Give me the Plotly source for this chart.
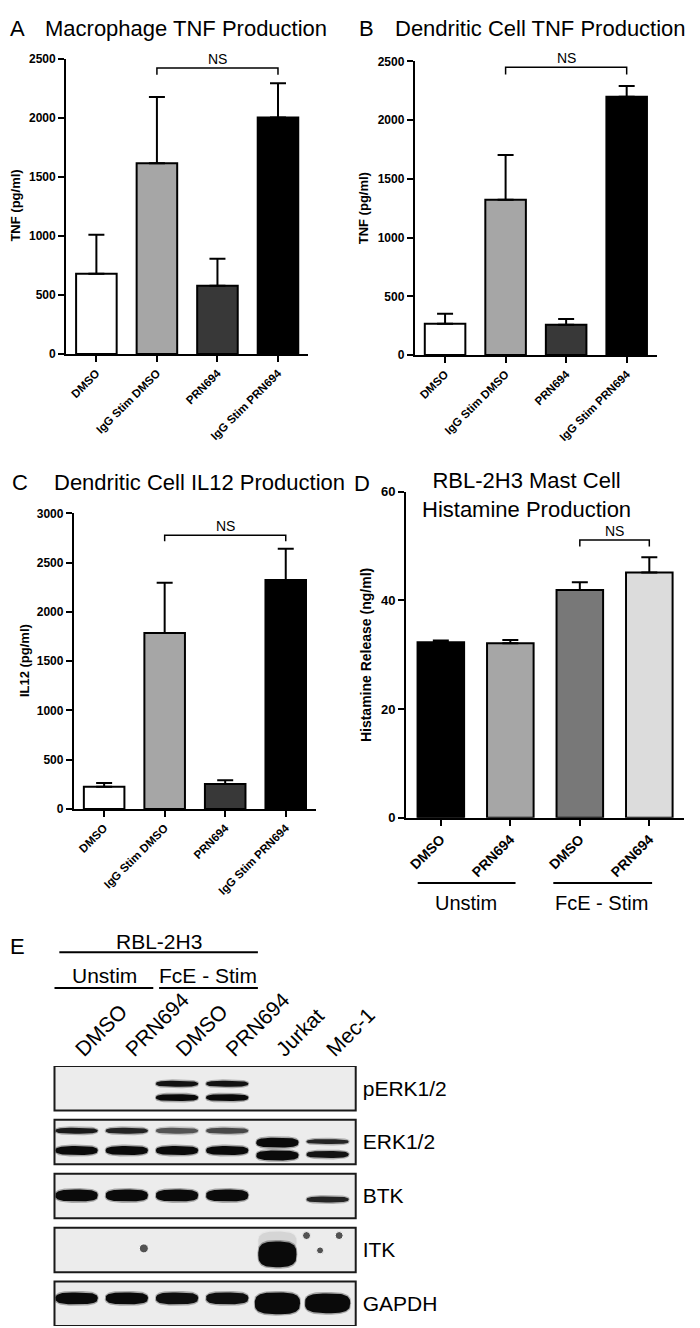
import numpy as np
import plotly.graph_objects as go

W, H = 700, 1328
FONT = "Liberation Sans"

# ------------------------------
#  Dados dos painéis A - D
# ------------------------------

groups_ac = ["DMSO", "IgG Stim DMSO", "PRN694", "IgG Stim PRN694"]
colors_ac = ["#ffffff", "#a6a6a6", "#383838", "#000000"]

mac_tnf = [680, 1615, 578, 2001]
mac_tnf_err = [330, 560, 228, 290]

dc_tnf = [268, 1323, 259, 2200]
dc_tnf_err = [84, 380, 48, 92]

dc_il12 = [224, 1785, 254, 2322]
dc_il12_err = [40, 510, 37, 318]

groups_d = ["DMSO", "PRN694", "DMSO", "PRN694"]
colors_d = ["#000000", "#a6a6a6", "#787878", "#dcdcdc"]
histamine = [32.3, 32.1, 41.9, 45.1]
histamine_err = [0.3, 0.6, 1.4, 2.8]

# bracket NS: (barra inicial, barra final, altura, pé do colchete)
ns_a = [1, 3, 2420, 2362]
ns_b = [1, 3, 2450, 2390]
ns_c = [1, 3, 2778, 2716]
ns_d = [2, 3, 51.1, 49.9]

# ------------------------------
#  Dados do western blot (E)
# ------------------------------

lanes = ["DMSO", "PRN694", "DMSO", "PRN694", "Jurkat", "Mec-1"]
proteins = ["pERK1/2", "ERK1/2", "BTK", "ITK", "GAPDH"]

# intensidade relativa de cada banda, por canaleta
perk_upper = [0, 0, 0.95, 0.95, 0, 0]
perk_lower = [0, 0, 1.0, 1.0, 0, 0]
erk_upper = [0.9, 0.85, 0.6, 0.65, 1.0, 0.85]
erk_lower = [1.0, 1.0, 1.0, 1.0, 1.0, 0.95]
btk = [1.0, 1.0, 1.0, 1.0, 0, 0.85]
itk = [0, 0, 0, 0, 1.0, 0]
itk_smear = [0, 0, 0, 0, 0.08, 0]
gapdh = [1.0, 1.0, 0.97, 0.97, 1.0, 1.0]

signals = {
    "pERK1/2": [perk_upper, perk_lower],
    "ERK1/2": [erk_upper, erk_lower],
    "BTK": [btk],
    "ITK": [itk_smear, itk],
    "GAPDH": [gapdh],
}

# manchas na membrana do ITK (canaleta, profundidade)
itk_specks_lane = [1.34, 4.58, 4.85, 5.23]
itk_specks_depth = [21, 8, 23, 8]


def px(x):
    return x / W


def py(y):
    return 1 - y / H


fig = go.Figure()
layout = {}
annotations = []
shapes = []

axis_common = dict(
    showline=True, linewidth=2, linecolor="black",
    ticks="outside", tickwidth=2, tickcolor="black",
    showgrid=False, zeroline=False, fixedrange=True,
)


def bar_panel(n, vals, errs, cols, labels, ymax, dtick, box, ns,
              xfont=11.5, yfont=12):
    xa, ya = ("x", "y") if n == 1 else (f"x{n}", f"y{n}")
    fig.add_trace(
        go.Bar(
            x=list(range(len(vals))),
            y=vals,
            width=0.67,
            marker=dict(color=cols, line=dict(color="black", width=2)),
            error_y=dict(
                type="data", symmetric=False, array=errs,
                arrayminus=[0] * len(errs), color="black",
                thickness=2, width=8,
            ),
            xaxis=xa, yaxis=ya, showlegend=False, hoverinfo="skip",
        )
    )
    # colchete NS
    a, b, top, foot = ns
    fig.add_trace(
        go.Scatter(
            x=[a, a, b, b], y=[foot, top, top, foot],
            mode="lines", line=dict(color="black", width=1.5),
            xaxis=xa, yaxis=ya, showlegend=False, hoverinfo="skip",
        )
    )
    annotations.append(dict(
        x=(a + b) / 2, y=top, xref=xa, yref=ya, text="NS",
        showarrow=False, yanchor="bottom", yshift=-1,
        font=dict(family=FONT, size=14, color="black"),
    ))
    x0, x1, y0, y1 = box
    key = "" if n == 1 else str(n)
    layout["xaxis" + key] = dict(
        axis_common, domain=[px(x0), px(x1)], anchor=ya,
        range=[-0.5, len(vals) - 0.5],
        tickvals=list(range(len(vals))), ticktext=labels,
        tickangle=-45, ticklen=6,
        tickfont=dict(family=FONT, size=xfont, color="black", weight="bold"),
    )
    layout["yaxis" + key] = dict(
        axis_common, domain=[py(y1), py(y0)], anchor=xa,
        range=[0, ymax], dtick=dtick, ticklen=6,
        tickfont=dict(family=FONT, size=yfont, color="black", weight="bold"),
    )


bar_panel(1, mac_tnf, mac_tnf_err, colors_ac, groups_ac, 2500, 500,
          (60, 310, 44, 343), ns_a)
bar_panel(2, dc_tnf, dc_tnf_err, colors_ac, groups_ac, 2500, 500,
          (420, 670, 47, 344), ns_b)
bar_panel(3, dc_il12, dc_il12_err, colors_ac, groups_ac, 3000, 500,
          (68, 318, 504, 803), ns_c)
bar_panel(4, histamine, histamine_err, colors_d, groups_d, 60, 20,
          (411, 698, 482, 812), ns_d, xfont=14, yfont=13)


def text(x, y, s, size=22, anchor="left", bold=False, angle=0):
    annotations.append(dict(
        x=px(x), y=py(y), xref="paper", yref="paper", text=s,
        showarrow=False, xanchor=anchor, yanchor="middle",
        textangle=angle,
        font=dict(family=FONT, size=size, color="black",
                  weight="bold" if bold else "normal"),
    ))


def hline(x0, x1, y):
    shapes.append(dict(
        type="line", xref="paper", yref="paper",
        x0=px(x0), x1=px(x1), y0=py(y), y1=py(y),
        line=dict(color="black", width=2),
    ))


# títulos
text(0, 14, "A")
text(36, 14, "Macrophage TNF Production")
text(360, 14, "B")
text(397, 14, "Dendritic Cell TNF Production")
text(2, 473, "C")
text(45, 473, "Dendritic Cell IL12 Production")
text(355, 474, "D")
text(535, 485, "RBL-2H3 Mast Cell<br>Histamine Production", anchor="center")

# títulos dos eixos y
text(8, 193, "TNF (pg/ml)", size=13, anchor="center", bold=True, angle=-90)
text(367, 195, "TNF (pg/ml)", size=13, anchor="center", bold=True, angle=-90)
text(17, 653, "IL12 (pg/ml)", size=13, anchor="center", bold=True, angle=-90)
text(369, 647, "Histamine Release (ng/ml)", size=14, anchor="center",
     bold=True, angle=-90)

# grupos do painel D
hline(423, 524, 878)
hline(563, 665, 878)
text(473, 898, "Unstim", size=20, anchor="center")
text(613, 898, "FcE - Stim", size=20, anchor="center")

# cabeçalho do painel E
text(0, 942, "E")
text(156, 937, "RBL-2H3", size=21, anchor="center")
hline(53, 258, 948)
text(100, 971, "Unstim", size=21, anchor="center")
text(207, 971, "FcE - Stim", size=21, anchor="center")
hline(48, 150, 984)
hline(156, 258, 984)

# ------------------------------
#  Western blot
# ------------------------------

STRIP_TOP = 1063
STRIP_H = 45
STRIP_PITCH = 54.5
blot_h = STRIP_PITCH * (len(proteins) - 1) + STRIP_H

# (profundidade no strip em px, espessura em px)
band_geom = {
    "pERK1/2": [(18, 6), (32, 7)],
    "ERK1/2": [(11, 6), (31, 9)],
    "BTK": [(22, 12)],
    "ITK": [(15, 22), (27, 26)],
    "GAPDH": [(17, 12)],
}
# linhagens controle correm diferente
lane_geom = {
    "ERK1/2": {4: [(23, 10), (36, 10)], 5: [(22, 5), (35, 7)]},
    "BTK": {5: [(26, 6)]},
    "GAPDH": {4: [(22, 22)], 5: [(22, 20)]},
}


def band_outline(cx, cy, hw, hh, n=3.0):
    t = np.linspace(0, 2 * np.pi, 80)
    c, s = np.cos(t), np.sin(t)
    bx = cx + hw * np.sign(c) * np.abs(c) ** (2 / n)
    by = cy + hh * np.sign(s) * np.abs(s) ** (2 / n)
    return bx, by


for i, prot in enumerate(proteins):
    top = i * STRIP_PITCH
    shapes.append(dict(
        type="rect", xref="x5 domain", yref="y5",
        x0=0, x1=1, y0=top, y1=top + STRIP_H,
        fillcolor="#ececec", line=dict(color="#1a1a1a", width=2),
        layer="below",
    ))
    for b, sig in enumerate(signals[prot]):
        for lane, val in enumerate(sig):
            if val <= 0:
                continue
            geom = lane_geom.get(prot, {}).get(lane, band_geom[prot])
            depth, thick = geom[min(b, len(geom) - 1)]
            hw = 0.45 if prot == "GAPDH" and lane >= 4 else 0.42
            if prot == "ITK":
                hw = 0.38
            # halo suave + núcleo da banda
            for grow, alpha in ((1.5, 0.3), (0, 1.0)):
                bx, by = band_outline(lane, top + depth, hw + grow * 0.012,
                                      thick / 2 + grow)
                fig.add_trace(go.Scatter(
                    x=bx, y=by, mode="lines", fill="toself",
                    fillcolor=f"rgba(10,10,10,{val * alpha:.2f})",
                    line=dict(width=0), xaxis="x5", yaxis="y5",
                    showlegend=False, hoverinfo="skip",
                ))

itk_top = proteins.index("ITK") * STRIP_PITCH
fig.add_trace(go.Scatter(
    x=itk_specks_lane,
    y=[itk_top + d for d in itk_specks_depth],
    mode="markers",
    marker=dict(color="#111111", size=[9, 8, 7, 8], symbol="circle"),
    xaxis="x5", yaxis="y5", showlegend=False, hoverinfo="skip",
))

layout["xaxis5"] = dict(
    domain=[px(48), px(359)], anchor="y5", range=[-0.44, 5.56],
    side="top", tickvals=list(range(len(lanes))), ticktext=lanes,
    tickangle=-45, ticks="", showline=False, showgrid=False,
    zeroline=False, fixedrange=True,
    tickfont=dict(family=FONT, size=21, color="black"),
)
layout["yaxis5"] = dict(
    domain=[py(STRIP_TOP + blot_h), py(STRIP_TOP)], anchor="x5",
    range=[blot_h, 0], side="right",
    tickvals=[i * STRIP_PITCH + STRIP_H / 2 for i in range(len(proteins))],
    ticktext=proteins, ticks="", showline=False, showgrid=False,
    zeroline=False, fixedrange=True, ticklabelstandoff=6,
    tickfont=dict(family=FONT, size=21, color="black"),
)

fig.update_layout(
    width=W, height=H,
    margin=dict(l=0, r=0, t=0, b=0),
    paper_bgcolor="white", plot_bgcolor="white",
    annotations=annotations, shapes=shapes,
    **layout,
)

fig.write_html("out.html")
